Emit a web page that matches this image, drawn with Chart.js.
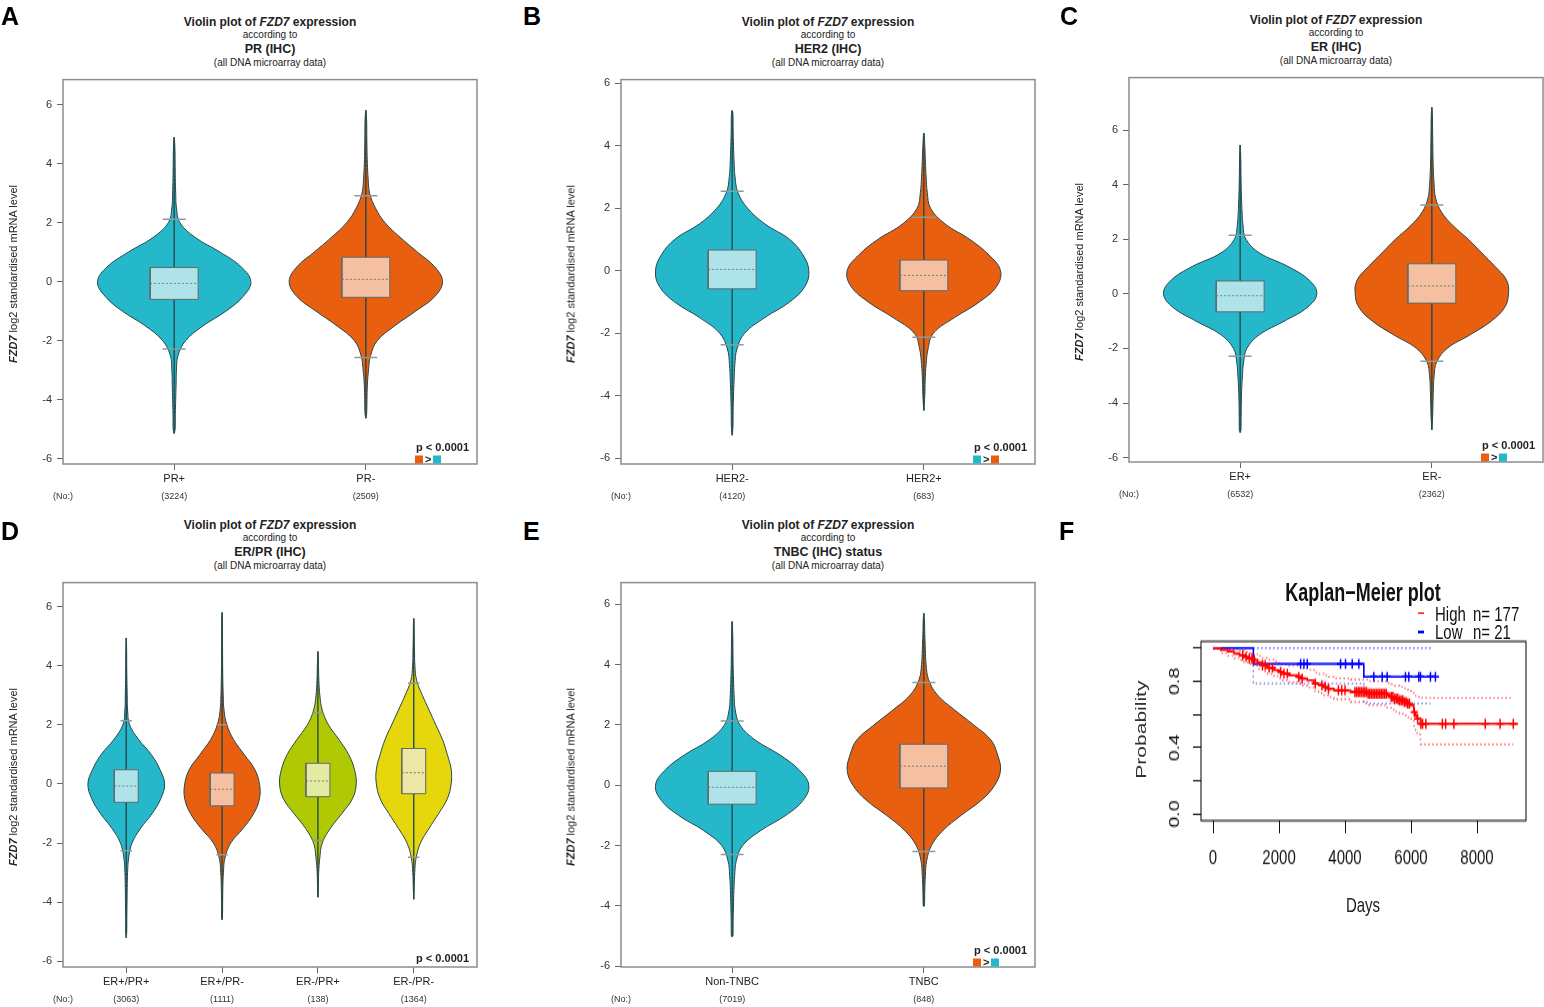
<!DOCTYPE html>
<html>
<head>
<meta charset="utf-8">
<title>FZD7 expression violin plots and Kaplan-Meier plot</title>
<script src="https://cdn.jsdelivr.net/npm/chart.js@4.4.1/dist/chart.umd.min.js"></script>
<style>
  html, body { margin: 0; padding: 0; background: #fff; }
  body { position: relative; width: 1544px; height: 1007px; overflow: hidden;
         font-family: 'Liberation Sans', Arial, Helvetica, sans-serif; color: #222; }
  canvas { position: absolute; }
  .txt { position: absolute; white-space: nowrap; line-height: 1; }
  .letter { position: absolute; font-weight: bold; font-size: 25px; line-height: 25px; color: #000; }
  .sq { display: inline-block; width: 8px; height: 8px; vertical-align: middle; }
  #km { position: absolute; left: 1060px; top: 570px; width: 484px; height: 262px;
        transform: scaleY(1.4); transform-origin: 0 0; }
</style>
</head>
<body>
<div id="km"></div>
<script>
const _ = null
const FONT = "'Liberation Sans', Arial, Helvetica, sans-serif"

const CYAN = '#25b8cb', CYAN_L = '#afe3ea'
const ORANGE = '#e85f0f', ORANGE_L = '#f5bfa1'
const GREEN = '#b1c903', GREEN_L = '#e3eba2'
const YELLOW = '#e5d70b', YELLOW_L = '#eee6a4'

// y levels at which violin half-widths are read (x units)
const densityY = [-5.5, -5, -4.5, -4, -3.5, -3, -2.5, -2, -1.5, -1, -0.5, 0, 0.5, 1, 1.5, 2, 2.5, 3, 3.5, 4, 4.5, 5, 5.5, 6, 6.5, 7]
const violinYTicks = [-6, -4, -2, 0, 2, 4, 6]

// A - PR (IHC)
const prLabels = ['PR+', 'PR-']
const prCounts = ['(3224)', '(2509)']
const prMin = [-5.15, -4.63]
const prCapLo = [-2.28, -2.57]
const prQ1 = [-0.6, -0.53]
const prMed = [-0.06, 0.08]
const prQ3 = [0.48, 0.83]
const prCapHi = [2.12, 2.91]
const prMax = [4.9, 5.81]
const prWidth = [
  [_, .005, .006, .008, .01, .012, .02, .06, .15, .27, .36, .40, .35, .24, .11, .03, .012, .008, .006, .005, .004, _, _, _, _, _],
  [_, _, .004, .006, .008, .014, .025, .06, .15, .26, .36, .40, .36, .27, .18, .10, .05, .02, .012, .008, .006, .005, .004, _, _, _]
]

// B - HER2 (IHC)
const her2Labels = ['HER2-', 'HER2+']
const her2Counts = ['(4120)', '(683)']
const her2Min = [-5.26, -4.47]
const her2CapLo = [-2.37, -2.13]
const her2Q1 = [-0.58, -0.64]
const her2Med = [0.04, -0.15]
const her2Q3 = [0.66, 0.34]
const her2CapHi = [2.54, 1.71]
const her2Max = [5.12, 4.4]
const her2Width = [
  [_, .004, .005, .007, .01, .014, .025, .065, .17, .30, .38, .40, .37, .30, .17, .08, .03, .015, .01, .007, .005, .004, _, _, _, _],
  [_, _, _, .005, .007, .012, .022, .05, .16, .29, .38, .40, .34, .24, .11, .035, .018, .012, .008, .005, _, _, _, _, _, _]
]

// C - ER (IHC)
const erLabels = ['ER+', 'ER-']
const erCounts = ['(6532)', '(2362)']
const erMin = [-5.08, -4.98]
const erCapLo = [-2.29, -2.47]
const erQ1 = [-0.66, -0.34]
const erMed = [-0.07, 0.29]
const erQ3 = [0.47, 1.1]
const erCapHi = [2.15, 3.25]
const erMax = [5.45, 6.83]
const erWidth = [
  [_, .004, .005, .006, .008, .012, .018, .035, .10, .23, .35, .40, .36, .25, .10, .03, .015, .01, .007, .005, .004, .003, _, _, _, _],
  [_, _, .004, .006, .008, .012, .025, .08, .20, .31, .38, .40, .39, .33, .26, .19, .11, .05, .02, .012, .008, .006, .005, .004, .003, _]
]

// D - ER/PR (IHC)
const erprLabels = ['ER+/PR+', 'ER+/PR-', 'ER-/PR+', 'ER-/PR-']
const erprCounts = ['(3063)', '(1111)', '(138)', '(1364)']
const erprMin = [-5.2, -4.59, -3.83, -3.9]
const erprCapLo = [-2.26, -2.39, -1.9, -2.48]
const erprQ1 = [-0.62, -0.74, -0.43, -0.33]
const erprMed = [-0.07, -0.18, 0.1, 0.38]
const erprQ3 = [0.48, 0.37, 0.7, 1.2]
const erprCapHi = [2.14, 2.0, 2.39, 3.41]
const erprMax = [4.94, 5.8, 4.48, 5.6]
const erprWidth = [
  [_, .005, .006, .008, .01, .014, .025, .06, .15, .27, .36, .40, .35, .26, .13, .035, .014, .01, .007, .005, .004, _, _, _, _, _],
  [_, _, .004, .006, .008, .014, .03, .09, .22, .33, .39, .39, .34, .23, .12, .05, .02, .012, .008, .006, .005, .004, .003, _, _, _],
  [_, _, _, _, .004, .008, .02, .045, .13, .25, .36, .40, .38, .32, .22, .11, .045, .02, .01, .006, _, _, _, _, _, _],
  [_, _, _, _, .005, .01, .025, .07, .16, .26, .35, .39, .39, .35, .30, .23, .16, .09, .03, .012, .008, .005, .003, _, _, _]
]

// E - TNBC (IHC) status
const tnbcLabels = ['Non-TNBC', 'TNBC']
const tnbcCounts = ['(7019)', '(848)']
const tnbcMin = [-5.03, -4.02]
const tnbcCapLo = [-2.3, -2.2]
const tnbcQ1 = [-0.63, -0.09]
const tnbcMed = [-0.07, 0.63]
const tnbcQ3 = [0.46, 1.36]
const tnbcCapHi = [2.13, 3.41]
const tnbcMax = [5.43, 5.7]
const tnbcWidth = [
  [_, .004, .005, .007, .009, .013, .022, .055, .15, .28, .37, .40, .35, .25, .12, .04, .016, .01, .007, .005, .004, .003, _, _, _, _],
  [_, _, _, .003, .005, .008, .015, .04, .10, .195, .30, .37, .40, .385, .35, .26, .16, .07, .025, .012, .008, .005, .003, _, _, _]
]

// F - Kaplan-Meier
const kmHighDays = [0, 230, 450, 636, 800, 939, 1100, 1222, 1350, 1494, 1650, 1847, 2000, 2100, 2300, 2553, 2700, 2856, 3058, 3200, 3361, 3500, 3663, 4167, 4671, 5278, 5400, 5480, 5650, 5782, 5900, 5984, 6085, 6140, 6186, 6286, 9240]
const kmHighSurv = [1, .99, .98, .967, .957, .947, .937, .927, .912, .897, .882, .867, .856, .846, .836, .826, .816, .806, .786, .776, .766, .755, .745, .735, .725, .715, .705, .695, .685, .675, .665, .655, .614, .594, .574, .544, .544]
const kmHighCiDays = [0, 230, 450, 636, 800, 939, 1100, 1222, 1350, 1494, 1650, 1847, 2000, 2100, 2300, 2553, 2700, 2856, 3058, 3200, 3361, 3500, 3663, 4167, 4671, 5278, 5400, 5480, 5650, 5782, 5900, 5984, 6085, 6140, 6186, 6286, 9100]
const kmHighUpper = [1, 1, .998, .99, .985, .978, .97, .963, .952, .94, .93, .918, .91, .902, .895, .887, .878, .87, .853, .845, .836, .826, .818, .81, .80, .79, .782, .774, .766, .758, .75, .742, .722, .712, .705, .70, .70]
const kmHighLower = [1, .97, .955, .94, .928, .915, .905, .893, .875, .86, .845, .83, .818, .806, .795, .785, .773, .762, .74, .728, .715, .703, .692, .675, .655, .64, .628, .617, .605, .595, .584, .574, .53, .505, .48, .42, .42]
const kmHighCensor = [900, 1000, 1100, 1180, 1250, 1500, 1580, 1700, 1800, 2050, 2150, 2250, 2600, 2700, 3100, 3300, 3400, 3500, 3800, 3900, 4000, 4300, 4350, 4400, 4450, 4500, 4550, 4600, 4650, 4700, 4750, 4800, 4850, 4900, 4950, 5000, 5050, 5100, 5150, 5200, 5250, 5400, 5450, 5500, 5550, 5600, 5650, 5700, 5750, 5800, 5850, 5900, 5950, 6100, 6200, 6300, 6350, 6450, 6950, 7050, 7300, 8250, 8700, 9100]
const kmLowDays = [0, 1222, 4570, 6740]
const kmLowSurv = [1, .905, .827, .827]
const kmLowCiDays = [0, 1222, 4570, 6590]
const kmLowUpper = [1, 1, 1, 1]
const kmLowLower = [1, .786, .666, .666]
const kmLowCensor = [2654, 2755, 2856, 3865, 4016, 4218, 4419, 4873, 5127, 5278, 5832, 5933, 6235, 6286, 6589, 6740]
const kmXTicks = [0, 2000, 4000, 6000, 8000]
const kmYTicks = [0, 0.2, 0.4, 0.6, 0.8, 1]
const kmYLabelVals = [0, 0.4, 0.8]

// box drawn round the plot area, R style
const framePlugin = {
  id: 'frame',
  afterDatasetsDraw(chart, args, opts) {
    const a = chart.chartArea
    const ctx = chart.ctx
    ctx.save()
    ctx.strokeStyle = opts.color
    ctx.lineWidth = opts.width
    ctx.strokeRect(a.left, a.top, a.right - a.left, a.bottom - a.top)
    ctx.restore()
  }
}

// rotated y tick labels (R default las=0)
const rotLabels = {
  id: 'rotLabels',
  afterDraw(chart, args, opts) {
    const ys = chart.scales.y
    const ctx = chart.ctx
    ctx.save()
    ctx.font = '14px ' + FONT
    ctx.fillStyle = '#111'
    ctx.textAlign = 'center'
    ctx.textBaseline = 'middle'
    opts.values.forEach(v => {
      ctx.save()
      ctx.translate(opts.x, ys.getPixelForValue(v))
      ctx.rotate(-Math.PI / 2)
      ctx.fillText(v.toFixed(1), 0, 0)
      ctx.restore()
    })
    ctx.restore()
  }
}

const addText = (html, x, y, css, anchor, extra, parent) => {
  const d = document.createElement('div')
  d.className = 'txt'
  d.innerHTML = html
  d.style.cssText += css || ''
  d.style.left = x + 'px'
  d.style.top = y + 'px'
  const tx = anchor === 'r' ? '-100%' : anchor === 'l' ? '0' : '-50%'
  d.style.transform = 'translate(' + tx + ',-50%)' + (extra ? ' ' + extra : '')
  ;(parent || document.body).appendChild(d)
  return d
}

const makeViolin = (box, d) => {
  const yW = 60, padTop = 5, xH1 = 20, xH2 = 26
  const padRight = box.padRight === undefined ? 6 : box.padRight
  const n = d.labels.length
  const xMin = 0.5 - 0.04 * n
  const xMax = n + 0.5 + 0.04 * n

  const cv = document.createElement('canvas')
  cv.width = yW + box.R - box.L + padRight
  cv.height = padTop + box.B - box.T + xH1 + xH2
  cv.style.left = (box.L - yW) + 'px'
  cv.style.top = (box.T - padTop) + 'px'
  document.body.appendChild(cv)

  const datasets = []
  d.labels.forEach((lab, i) => {
    const c = i + 1
    const leftSide = [], rightSide = []
    densityY.forEach((y, k) => {
      const w = d.width[i][k]
      if (w === null) return
      leftSide.push({x: c - w, y: y})
      rightSide.unshift({x: c + w, y: y})
    })
    const outline = [{x: c, y: d.min[i]}].concat(leftSide, [{x: c, y: d.max[i]}], rightSide, [{x: c, y: d.min[i]}])
    datasets.push({data: outline, fill: 'shape', backgroundColor: d.fill[i], borderColor: '#27474b', borderWidth: 1, tension: 0.4, order: 5})
    datasets.push({data: [{x: c, y: d.min[i]}, {x: c, y: d.max[i]}], borderColor: '#29484c', borderWidth: 1.4, order: 4})
    datasets.push({
      data: [{x: c - 0.125, y: d.q1[i]}, {x: c + 0.125, y: d.q1[i]}, {x: c + 0.125, y: d.q3[i]}, {x: c - 0.125, y: d.q3[i]}, {x: c - 0.125, y: d.q1[i]}],
      fill: 'shape', backgroundColor: d.light[i], borderColor: '#5e6a6b', borderWidth: 1, order: 3
    })
    datasets.push({data: [{x: c - 0.125, y: d.med[i]}, {x: c + 0.125, y: d.med[i]}], borderColor: '#6f7c7d', borderWidth: 1, borderDash: [2, 2], order: 2})
    datasets.push({data: [{x: c - 0.06, y: d.capLo[i]}, {x: c + 0.06, y: d.capLo[i]}], borderColor: '#8d9a9b', borderWidth: 1.5, order: 1})
    datasets.push({data: [{x: c - 0.06, y: d.capHi[i]}, {x: c + 0.06, y: d.capHi[i]}], borderColor: '#8d9a9b', borderWidth: 1.5, order: 1})
  })

  new Chart(cv, {
    type: 'line',
    data: {datasets: datasets},
    options: {
      responsive: false,
      animation: false,
      layout: {padding: {top: padTop, right: padRight, left: 0, bottom: 0}},
      elements: {point: {radius: 0}, line: {fill: false}},
      plugins: {legend: {display: false}, tooltip: {enabled: false}, frame: {color: '#8c8c8c', width: 1.5}},
      scales: {
        x: {
          type: 'linear', position: 'bottom', min: xMin, max: xMax, weight: 0,
          afterBuildTicks: s => { s.ticks = d.labels.map((l, i) => ({value: i + 1})) },
          afterFit: s => { s.height = xH1 },
          ticks: {autoSkip: false, maxRotation: 0, font: {family: FONT, size: 11}, color: '#222', padding: 2,
                  callback: (v, i) => d.labels[i]},
          grid: {drawOnChartArea: false, tickLength: 6, color: '#666'},
          border: {display: false}
        },
        x2: {
          axis: 'x', type: 'linear', position: 'bottom', min: xMin, max: xMax, weight: 1,
          afterBuildTicks: s => { s.ticks = [{value: xMin}].concat(d.labels.map((l, i) => ({value: i + 1}))) },
          afterFit: s => { s.height = xH2 },
          ticks: {autoSkip: false, maxRotation: 0, font: {family: FONT, size: 9}, color: '#333', padding: 7,
                  callback: (v, i) => i === 0 ? '(No:)' : d.counts[i - 1]},
          grid: {display: false, drawTicks: false},
          border: {display: false}
        },
        y: {
          type: 'linear', min: d.yMin, max: d.yMax,
          afterBuildTicks: s => { s.ticks = violinYTicks.map(v => ({value: v})) },
          afterFit: s => { s.width = yW },
          ticks: {font: {family: FONT, size: 11}, color: '#333', padding: 5},
          grid: {drawOnChartArea: false, tickLength: 6, color: '#666'},
          border: {display: false}
        }
      }
    },
    plugins: [framePlugin]
  })

  // titles and annotations
  const cx = (box.L + box.R) / 2
  addText('Violin plot of <i>FZD7</i> expression', cx, box.T - 51, 'font-weight:bold;font-size:12px;')
  addText('according to', cx, box.T - 38, 'font-size:10px;')
  addText(d.title, cx, box.T - 24, 'font-weight:bold;font-size:12.5px;')
  addText('(all DNA microarray data)', cx, box.T - 10.5, 'font-size:10px;')
  addText('<b><i>FZD7</i></b> log2 standardised mRNA level', box.L - 50, (box.T + box.B) / 2 + 5, 'font-size:11px;', 'c', 'rotate(-90deg)')
  if (d.pColors) {
    addText('p &lt; 0.0001', box.R - 8, box.B - 17, 'font-weight:bold;font-size:11px;', 'r')
    addText('<span class="sq" style="background:' + d.pColors[0] + '"></span><span style="margin:0 2px">&gt;</span><span class="sq" style="background:' + d.pColors[1] + '"></span>',
      box.R - 62, box.B - 5, 'font-weight:bold;font-size:11px;', 'l')
  } else {
    addText('p &lt; 0.0001', box.R - 8, box.B - 9, 'font-weight:bold;font-size:11px;', 'r')
  }
}

makeViolin({L: 63, R: 477, T: 73, B: 464}, {
  title: 'PR (IHC)', labels: prLabels, counts: prCounts, min: prMin, capLo: prCapLo, q1: prQ1, med: prMed,
  q3: prQ3, capHi: prCapHi, max: prMax, width: prWidth, fill: [CYAN, ORANGE], light: [CYAN_L, ORANGE_L],
  yMin: -6.18, yMax: 6.85, pColors: [ORANGE, CYAN]
})
makeViolin({L: 621, R: 1035, T: 73, B: 464}, {
  title: 'HER2 (IHC)', labels: her2Labels, counts: her2Counts, min: her2Min, capLo: her2CapLo, q1: her2Q1, med: her2Med,
  q3: her2Q3, capHi: her2CapHi, max: her2Max, width: her2Width, fill: [CYAN, ORANGE], light: [CYAN_L, ORANGE_L],
  yMin: -6.18, yMax: 6.11, pColors: [CYAN, ORANGE]
})
makeViolin({L: 1129, R: 1543, T: 71, B: 462, padRight: 1}, {
  title: 'ER (IHC)', labels: erLabels, counts: erCounts, min: erMin, capLo: erCapLo, q1: erQ1, med: erMed,
  q3: erQ3, capHi: erCapHi, max: erMax, width: erWidth, fill: [CYAN, ORANGE], light: [CYAN_L, ORANGE_L],
  yMin: -6.16, yMax: 7.92, pColors: [ORANGE, CYAN]
})
makeViolin({L: 63, R: 477, T: 576, B: 967}, {
  title: 'ER/PR (IHC)', labels: erprLabels, counts: erprCounts, min: erprMin, capLo: erprCapLo, q1: erprQ1, med: erprMed,
  q3: erprQ3, capHi: erprCapHi, max: erprMax, width: erprWidth, fill: [CYAN, ORANGE, GREEN, YELLOW],
  light: [CYAN_L, ORANGE_L, GREEN_L, YELLOW_L], yMin: -6.19, yMax: 6.81, pColors: null
})
makeViolin({L: 621, R: 1035, T: 576, B: 967}, {
  title: 'TNBC (IHC) status', labels: tnbcLabels, counts: tnbcCounts, min: tnbcMin, capLo: tnbcCapLo, q1: tnbcQ1, med: tnbcMed,
  q3: tnbcQ3, capHi: tnbcCapHi, max: tnbcMax, width: tnbcWidth, fill: [CYAN, ORANGE], light: [CYAN_L, ORANGE_L],
  yMin: -6.03, yMax: 6.72, pColors: [ORANGE, CYAN]
})

// panel letters
const letters = [['A', 1, 4], ['B', 523, 4], ['C', 1060, 4], ['D', 1, 519], ['E', 523, 519], ['F', 1059, 519]]
letters.forEach(l => {
  const d = document.createElement('div')
  d.className = 'letter'
  d.textContent = l[0]
  d.style.left = l[1] + 'px'
  d.style.top = l[2] + 'px'
  document.body.appendChild(d)
})

// ---- F: Kaplan-Meier (drawn unstretched, container is stretched vertically like the source image)
const km = document.getElementById('km')
const kmCanvas = document.createElement('canvas')
kmCanvas.width = 394
kmCanvas.height = 199
kmCanvas.style.left = '90px'
kmCanvas.style.top = '20px'
km.appendChild(kmCanvas)

const pts = (xs, ys) => xs.map((x, i) => ({x: x, y: ys[i]}))
const survAt = (days, surv, t) => {
  let v = surv[0]
  days.forEach((d, i) => { if (d <= t) v = surv[i] })
  return v
}

new Chart(kmCanvas, {
  type: 'line',
  data: {
    datasets: [
      {data: kmHighCensor.map(t => ({x: t, y: survAt(kmHighDays, kmHighSurv, t)})), showLine: false,
       pointStyle: 'cross', pointRadius: 3.6, borderColor: '#ff0000', borderWidth: 1.5, order: 1},
      {data: pts(kmHighDays, kmHighSurv), stepped: true, borderColor: '#ff0000', borderWidth: 1.6, order: 2},
      {data: kmLowCensor.map(t => ({x: t, y: survAt(kmLowDays, kmLowSurv, t)})), showLine: false,
       pointStyle: 'cross', pointRadius: 3.6, borderColor: '#0000ff', borderWidth: 1.5, order: 3},
      {data: pts(kmLowDays, kmLowSurv), stepped: true, borderColor: '#0000ff', borderWidth: 1.6, order: 4},
      {data: pts(kmHighCiDays, kmHighUpper), stepped: true, borderColor: 'rgba(255,30,30,0.65)', borderWidth: 1.3, borderDash: [1.5, 2.5], order: 5},
      {data: pts(kmHighCiDays, kmHighLower), stepped: true, borderColor: 'rgba(255,30,30,0.65)', borderWidth: 1.3, borderDash: [1.5, 2.5], order: 5},
      {data: pts(kmLowCiDays, kmLowUpper), stepped: true, borderColor: 'rgba(40,40,255,0.65)', borderWidth: 1.3, borderDash: [1.5, 2.5], order: 6},
      {data: pts(kmLowCiDays, kmLowLower), stepped: true, borderColor: 'rgba(40,40,255,0.65)', borderWidth: 1.3, borderDash: [1.5, 2.5], order: 6}
    ]
  },
  options: {
    responsive: false,
    animation: false,
    layout: {padding: {top: 31, right: 18, left: 0, bottom: 0}},
    elements: {point: {radius: 0}, line: {fill: false}},
    plugins: {legend: {display: false}, tooltip: {enabled: false},
              frame: {color: '#000', width: 1}, rotLabels: {values: kmYLabelVals, x: 25}},
    scales: {
      x: {
        type: 'linear', min: -365, max: 9485,
        afterBuildTicks: s => { s.ticks = kmXTicks.map(v => ({value: v})) },
        afterFit: s => { s.height = 40 },
        ticks: {autoSkip: false, maxRotation: 0, font: {family: FONT, size: 15}, color: '#111', padding: 9,
                callback: v => String(v)},
        grid: {drawOnChartArea: false, tickLength: 9, color: '#111'},
        border: {display: false}
      },
      y: {
        type: 'linear', min: -0.04, max: 1.04,
        afterBuildTicks: s => { s.ticks = kmYTicks.map(v => ({value: v})) },
        afterFit: s => { s.width = 51 },
        ticks: {callback: () => ''},
        grid: {drawOnChartArea: false, tickLength: 8, color: '#111'},
        border: {display: false}
      }
    }
  },
  plugins: [framePlugin, rotLabels]
})

addText('Kaplan\u2212Meier plot', 303, 16.4, 'font-weight:bold;font-size:18px;color:#111;', 'c', '', km)
addText('', 361, 30.7, 'width:6px;height:1.4px;background:#ff0000;', 'c', '', km)
addText('High', 375, 30.7, 'font-size:15px;color:#111;', 'l', '', km)
addText('n= 177', 413, 30.7, 'font-size:15px;color:#111;', 'l', '', km)
addText('', 361, 44.3, 'width:6px;height:1.4px;background:#0000ff;', 'c', '', km)
addText('Low', 375, 44.3, 'font-size:15px;color:#111;', 'l', '', km)
addText('n= 21', 413, 44.3, 'font-size:15px;color:#111;', 'l', '', km)
addText('Probability', 80, 114.3, 'font-size:15px;color:#333;', 'c', 'rotate(-90deg)', km)
addText('Days', 303, 238.6, 'font-size:15px;color:#222;', 'c', '', km)
</script>
</body>
</html>
